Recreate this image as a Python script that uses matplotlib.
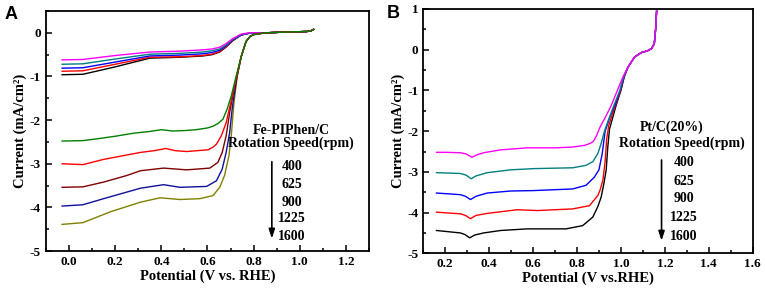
import matplotlib
matplotlib.use("Agg")
import matplotlib.pyplot as plt
from matplotlib.ticker import MultipleLocator

plt.rcParams['font.family'] = ['Liberation Serif', 'DejaVu Serif']
plt.rcParams['font.weight'] = 'bold'
plt.rcParams['axes.unicode_minus'] = False

# ---------------- Panel A: Fe-PIPhen/C ----------------
tail_a_x = [0.767, 0.785, 0.80, 0.85, 0.95, 1.03, 1.05, 1.06]
tail_a_y = [-0.2, -0.08, -0.04, 0.0, 0.02, 0.03, 0.05, 0.08]

a400_x = [-0.03, 0.06, 0.12, 0.2, 0.28, 0.35, 0.4, 0.45, 0.5, 0.55, 0.6, 0.624, 0.645, 0.667, 0.685, 0.703, 0.724, 0.746]
a400_y = [-2.48, -2.47, -2.43, -2.37, -2.3, -2.26, -2.22, -2.25, -2.24, -2.22, -2.18, -2.14, -2.08, -1.98, -1.75, -1.45, -1.0, -0.55]

a625_x = [-0.03, 0.06, 0.15, 0.25, 0.31, 0.37, 0.42, 0.46, 0.51, 0.58, 0.603, 0.624, 0.639, 0.66, 0.681, 0.705, 0.726, 0.746]
a625_y = [-3.0, -3.02, -2.9, -2.8, -2.74, -2.7, -2.65, -2.7, -2.72, -2.69, -2.68, -2.62, -2.55, -2.36, -2.06, -1.5, -1.0, -0.55]

a900_x = [-0.03, 0.06, 0.15, 0.25, 0.31, 0.41, 0.46, 0.51, 0.61, 0.645, 0.664, 0.681, 0.697, 0.715, 0.727, 0.746]
a900_y = [-3.54, -3.53, -3.42, -3.27, -3.16, -3.1, -3.12, -3.14, -3.1, -2.97, -2.74, -2.36, -1.8, -1.3, -1.0, -0.55]

a1225_x = [-0.03, 0.06, 0.15, 0.25, 0.31, 0.41, 0.48, 0.596, 0.639, 0.664, 0.681, 0.696, 0.708, 0.728, 0.746]
a1225_y = [-3.97, -3.94, -3.8, -3.65, -3.56, -3.48, -3.54, -3.52, -3.39, -3.12, -2.74, -2.29, -1.7, -1.0, -0.55]

a1600_x = [-0.03, 0.06, 0.18, 0.31, 0.395, 0.48, 0.567, 0.624, 0.653, 0.674, 0.693, 0.703, 0.715, 0.729, 0.746]
a1600_y = [-4.39, -4.35, -4.1, -3.88, -3.78, -3.82, -3.8, -3.73, -3.54, -3.27, -2.82, -2.36, -1.6, -1.0, -0.55]

ring_x = [-0.03, 0.06, 0.2, 0.35, 0.48, 0.58, 0.62, 0.653, 0.68, 0.71, 0.746, 0.78, 0.85, 0.95, 1.03, 1.05, 1.06]
ring400_y = [-0.62, -0.61, -0.52, -0.44, -0.42, -0.39, -0.37, -0.33, -0.25, -0.13, -0.03, 0.0, 0.0, 0.02, 0.03, 0.05, 0.08]
ring625_y = [-0.72, -0.71, -0.6, -0.49, -0.47, -0.44, -0.41, -0.37, -0.28, -0.15, -0.04, -0.01, 0.0, 0.02, 0.03, 0.05, 0.08]
ring900_y = [-0.81, -0.8, -0.67, -0.53, -0.51, -0.48, -0.45, -0.4, -0.3, -0.16, -0.05, -0.01, 0.0, 0.02, 0.03, 0.05, 0.08]
ring1225_y = [-0.88, -0.87, -0.72, -0.56, -0.55, -0.52, -0.49, -0.43, -0.32, -0.17, -0.05, -0.01, 0.0, 0.02, 0.03, 0.05, 0.08]
ring1600_y = [-0.96, -0.95, -0.78, -0.58, -0.56, -0.53, -0.5, -0.44, -0.33, -0.18, -0.05, -0.01, 0.0, 0.02, 0.03, 0.05, 0.08]

# ---------------- Panel B: Pt/C(20%) ----------------
tail_b_x = [1.032, 1.062, 1.093, 1.12, 1.14, 1.152, 1.158, 1.163, 1.166]
tail_b_y = [-0.43, -0.18, -0.07, -0.03, 0.03, 0.15, 0.5, 1.0, 1.2]

b400_x = [0.16, 0.2, 0.269, 0.295, 0.322, 0.345, 0.375, 0.452, 0.574, 0.7, 0.78, 0.834, 0.86, 0.875, 0.89, 0.905, 0.93, 0.956, 0.98, 1.009]
b400_y = [-2.52, -2.52, -2.53, -2.56, -2.64, -2.58, -2.53, -2.46, -2.41, -2.41, -2.39, -2.35, -2.3, -2.25, -2.1, -1.9, -1.65, -1.37, -1.05, -0.67]

b625_x = [0.16, 0.269, 0.295, 0.318, 0.34, 0.391, 0.498, 0.604, 0.78, 0.841, 0.872, 0.895, 0.91, 0.925, 0.945, 0.968, 0.995, 1.012]
b625_y = [-3.02, -3.04, -3.08, -3.17, -3.1, -3.02, -2.95, -2.92, -2.9, -2.84, -2.75, -2.55, -2.3, -2.0, -1.7, -1.37, -1.0, -0.67]

b900_x = [0.16, 0.269, 0.292, 0.315, 0.34, 0.391, 0.498, 0.6, 0.78, 0.841, 0.879, 0.9, 0.915, 0.928, 0.95, 0.972, 0.997, 1.013]
b900_y = [-3.52, -3.56, -3.6, -3.68, -3.6, -3.52, -3.47, -3.46, -3.42, -3.33, -3.13, -2.95, -2.55, -2.0, -1.65, -1.37, -1.0, -0.67]

b1225_x = [0.16, 0.269, 0.292, 0.315, 0.34, 0.391, 0.528, 0.62, 0.78, 0.857, 0.895, 0.905, 0.918, 0.928, 0.935, 0.945, 0.975, 0.999, 1.014]
b1225_y = [-3.99, -4.03, -4.07, -4.15, -4.07, -4.02, -3.93, -3.95, -3.91, -3.83, -3.58, -3.45, -3.2, -2.75, -2.2, -1.85, -1.37, -1.0, -0.67]

b1600_x = [0.16, 0.269, 0.29, 0.311, 0.335, 0.375, 0.452, 0.574, 0.75, 0.826, 0.872, 0.895, 0.91, 0.922, 0.933, 0.94, 0.948, 0.978, 1.0, 1.015]
b1600_y = [-4.44, -4.5, -4.54, -4.62, -4.55, -4.5, -4.44, -4.4, -4.4, -4.32, -4.11, -3.85, -3.62, -3.3, -2.95, -2.4, -1.95, -1.37, -1.0, -0.67]

speeds = ['400', '625', '900', '1225', '1600']

fig = plt.figure(figsize=(7.65, 2.93), dpi=100)
axA = fig.add_axes([0.0601, 0.1433, 0.4222, 0.8191])
axB = fig.add_axes([0.5533, 0.1355, 0.4306, 0.8338])

lw = 1.0
# ring-type upper curves
for y, c in [(ring1600_y, 'black'), (ring1225_y, '#ff0000'), (ring900_y, '#0000ff'),
             (ring625_y, '#008080'), (ring400_y, '#ff00ff')]:
    axA.plot(ring_x, y, color=c, lw=lw)
# disk curves
for xs, ys, c in [(a1600_x, a1600_y, '#808000'), (a1225_x, a1225_y, '#10109a'),
                  (a900_x, a900_y, '#800000'), (a625_x, a625_y, '#ff0000'),
                  (a400_x, a400_y, '#008000')]:
    axA.plot(xs + tail_a_x, ys + tail_a_y, color=c, lw=lw)

for xs, ys, c in [(b1600_x, b1600_y, 'black'), (b1225_x, b1225_y, '#ff0000'),
                  (b900_x, b900_y, '#0000ff'), (b625_x, b625_y, '#008080'),
                  (b400_x, b400_y, '#ff00ff')]:
    axB.plot(xs + tail_b_x, ys + tail_b_y, color=c, lw=lw)

axA.set_xlim(-0.1, 1.3)
axA.set_ylim(-5, 0.5)
axB.set_xlim(0.1, 1.6)
axB.set_ylim(-5, 1)

for ax in (axA, axB):
    ax.xaxis.set_major_locator(MultipleLocator(0.2))
    ax.xaxis.set_minor_locator(MultipleLocator(0.1))
    ax.yaxis.set_major_locator(MultipleLocator(1))
    ax.yaxis.set_minor_locator(MultipleLocator(0.5))
    ax.tick_params(which='both', direction='in', top=False, right=False, labelsize=9.5, width=1.1)
    ax.tick_params(which='major', length=4)
    ax.tick_params(which='minor', length=2.5)
    for s in ax.spines.values():
        s.set_linewidth(1.3)
    ax.set_ylabel('Current (mA/cm\u00b2)', fontsize=10.5, fontweight='bold', labelpad=2)
    for lab in ax.get_xticklabels() + ax.get_yticklabels():
        lab.set_fontweight('bold')

axA.xaxis.set_major_formatter(matplotlib.ticker.FormatStrFormatter('%.1f'))
axB.xaxis.set_major_formatter(matplotlib.ticker.FormatStrFormatter('%.1f'))
axA.yaxis.set_major_formatter(matplotlib.ticker.FormatStrFormatter('%d'))
axB.yaxis.set_major_formatter(matplotlib.ticker.FormatStrFormatter('%d'))

axA.set_xlabel('Potential (V vs. RHE)', fontsize=10.5, fontweight='bold', labelpad=1)
axB.set_xlabel('Potential (V vs.RHE)', fontsize=10.5, fontweight='bold', labelpad=1)

# annotations A
axA.text(0.962, -2.23, 'Fe-PIPhen/C', ha='center', va='center', fontsize=10, fontweight='bold')
axA.text(0.962, -2.52, 'Rotation Speed(rpm)', ha='center', va='center', fontsize=10, fontweight='bold')
for s, yy in zip(speeds, [-3.06, -3.48, -3.88, -4.26, -4.66]):
    axA.text(0.966, yy, s, ha='center', va='center', fontsize=10, fontweight='bold')
axA.annotate('', xy=(0.879, -4.78), xytext=(0.879, -2.89),
             arrowprops=dict(arrowstyle='-|>,head_width=0.18,head_length=0.55', color='black', lw=1.2))

# annotations B
axB.text(1.23, -1.91, 'Pt/C(20%)', ha='center', va='center', fontsize=10, fontweight='bold')
axB.text(1.276, -2.3, 'Rotation Speed(rpm)', ha='center', va='center', fontsize=10, fontweight='bold')
for s, yy in zip(speeds, [-2.78, -3.23, -3.66, -4.13, -4.58]):
    axB.text(1.287, yy, s, ha='center', va='center', fontsize=10, fontweight='bold')
axB.annotate('', xy=(1.185, -4.76), xytext=(1.185, -2.64),
             arrowprops=dict(arrowstyle='-|>,head_width=0.18,head_length=0.55', color='black', lw=1.2))

fig.text(5 / 765, 1 - 14.5 / 293, 'A', fontsize=13, fontweight='bold', family='Liberation Sans', va='center', ha='left')
fig.text(387 / 765, 1 - 14 / 293, 'B', fontsize=13, fontweight='bold', family='Liberation Sans', va='center', ha='left')

fig.savefig('out.png', dpi=100)
